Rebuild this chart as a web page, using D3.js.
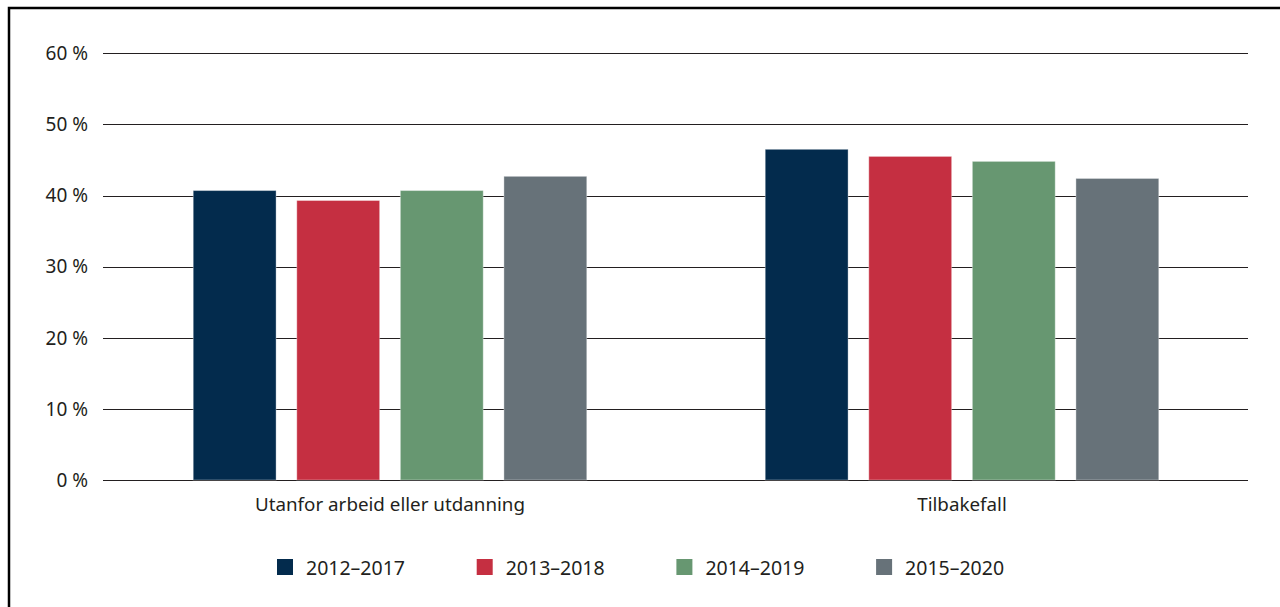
<!DOCTYPE html>
<html>
<head>
<meta charset="utf-8">
<script src="https://cdn.jsdelivr.net/npm/d3@7"></script>
<style>
  body { margin: 0; background: #fff; }
  svg { display: block; font-family: "Noto Sans", "Open Sans", sans-serif; }
</style>
</head>
<body>
<svg width="1280" height="607"></svg>
<script>
var categories = ["Utanfor arbeid eller utdanning", "Tilbakefall"];
var series = ["2012–2017", "2013–2018", "2014–2019", "2015–2020"];
// values in percent, one array per series (same order as categories)
var v2012 = [40.7, 46.5];
var v2013 = [39.3, 45.5];
var v2014 = [40.7, 44.8];
var v2015 = [42.7, 42.4];
var yTicks = [0, 10, 20, 30, 40, 50, 60];
var colors = ["#032b4d", "#c52f41", "#679771", "#677279"];

var values = [v2012, v2013, v2014, v2015];
var svg = d3.select("svg");
var textColor = "#231f20";

// frame (left + top only)
svg.append("path")
    .attr("d", "M9,607 V8 H1280")
    .attr("fill", "none")
    .attr("stroke", "#000")
    .attr("stroke-width", 2.5);

var x0 = d3.scaleBand()
    .domain(categories)
    .range([104, 1248])
    .paddingInner(0.312)
    .paddingOuter(0.156);

var x1 = d3.scaleBand()
    .domain(series)
    .range([0, x0.bandwidth()])
    .paddingInner(0.2)
    .paddingOuter(0);

var y = d3.scaleLinear()
    .domain([0, 60])
    .range([480, 53.3]);

// grid lines
var grid = svg.append("g");
grid.selectAll("line")
    .data(yTicks)
    .enter().append("line")
    .attr("x1", 103)
    .attr("x2", 1248)
    .attr("y1", function (d) { return Math.round(y(d)) + 0.5; })
    .attr("y2", function (d) { return Math.round(y(d)) + 0.5; })
    .attr("stroke", "#231f20")
    .attr("stroke-width", 1);

grid.selectAll("text")
    .data(yTicks)
    .enter().append("text")
    .attr("x", 88)
    .attr("y", function (d) { return y(d); })
    .attr("dy", "0.36em")
    .attr("text-anchor", "end")
    .attr("fill", textColor)
    .style("font-size", "19px")
    .text(function (d) { return d + " %"; });

// bars
var groups = svg.append("g").selectAll("g")
    .data(categories)
    .enter().append("g")
    .attr("transform", function (d) { return "translate(" + x0(d) + ",0)"; });

groups.selectAll("rect")
    .data(function (c, ci) {
        return series.map(function (s, si) { return { s: s, i: si, v: values[si][ci] }; });
    })
    .enter().append("rect")
    .attr("x", function (d) { return x1(d.s); })
    .attr("width", x1.bandwidth())
    .attr("y", function (d) { return y(d.v); })
    .attr("height", function (d) { return y(0) - y(d.v); })
    .attr("fill", function (d) { return colors[d.i]; })
    .attr("stroke", "#fff")
    .attr("stroke-opacity", 0.35)
    .attr("stroke-width", 1);

// category labels
svg.append("g").selectAll("text")
    .data(categories)
    .enter().append("text")
    .attr("x", function (d) { return x0(d) + x0.bandwidth() / 2; })
    .attr("y", 511)
    .attr("text-anchor", "middle")
    .attr("fill", textColor)
    .style("font-size", "18.8px")
    .text(function (d) { return d; });

// legend
var legend = svg.append("g").selectAll("g")
    .data(series)
    .enter().append("g")
    .attr("transform", function (d, i) { return "translate(" + (277 + i * 199.7) + ",559)"; });

legend.append("rect")
    .attr("width", 16)
    .attr("height", 16)
    .attr("fill", function (d, i) { return colors[i]; });

legend.append("text")
    .attr("x", 29)
    .attr("y", 16)
    .attr("fill", textColor)
    .style("font-size", "19.5px")
    .text(function (d) { return d; });
</script>
</body>
</html>
